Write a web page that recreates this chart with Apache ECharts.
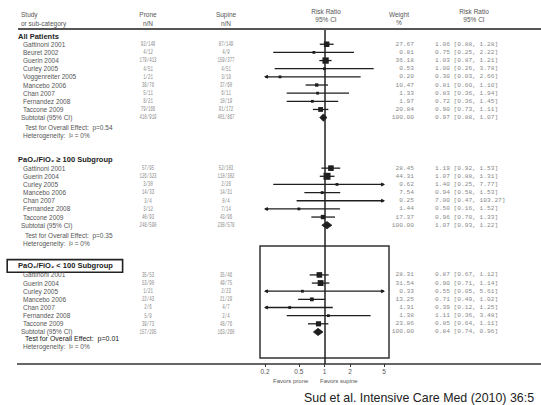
<!DOCTYPE html>
<html><head><meta charset="utf-8">
<script src="https://cdn.jsdelivr.net/npm/echarts@6/dist/echarts.min.js"></script>
<style>html,body{margin:0;padding:0;background:#fff}#c{width:541px;height:405px}</style>
</head><body><div id="c"></div>
<script>
// ---------- DATA ----------
const groupTitles = ['All Patients', 'PaO\u2082/FiO\u2082 \u2265 100 Subgroup', 'PaO\u2082/FiO\u2082 < 100 Subgroup'];

const names1  = ['Gattinoni 2001','Beuret 2002','Guerin 2004','Curley 2005','Voggenreiter 2005','Mancebo 2006','Chan 2007','Fernandez 2008','Taccone 2009'];
const prone1  = ['92/149','4/12','179/413','4/51','1/21','38/76','5/11','8/21','79/166'];
const supine1 = ['87/149','4/9','159/377','4/51','3/19','37/60','6/11','10/19','91/172'];
const weight1 = [27.67, 0.81, 36.18, 0.53, 0.20, 10.47, 1.33, 1.97, 20.84];
const rr1     = [1.06, 0.75, 1.03, 1.00, 0.30, 0.81, 0.83, 0.72, 0.90];
const lo1     = [0.88, 0.25, 0.87, 0.26, 0.03, 0.60, 0.36, 0.36, 0.73];
const hi1     = [1.28, 2.22, 1.21, 3.78, 2.66, 1.10, 1.94, 1.45, 1.11];

const names2  = ['Gattinoni 2001','Guerin 2004','Curley 2005','Mancebo 2006','Chan 2007','Fernandez 2008','Taccone 2009'];
const prone2  = ['57/95','126/323','3/30','14/33','3/4','3/12','40/93'];
const supine2 = ['52/103','110/302','2/28','14/31','0/4','7/14','43/96'];
const weight2 = [28.45, 44.31, 0.62, 7.54, 0.25, 1.44, 17.37];
const rr2     = [1.19, 1.07, 1.40, 0.94, 7.00, 0.50, 0.96];
const lo2     = [0.92, 0.88, 0.25, 0.58, 0.47, 0.16, 0.70];
const hi2     = [1.53, 1.31, 7.77, 1.53, 103.27, 1.52, 1.33];

const names3  = ['Gattinoni 2001','Guerin 2004','Curley 2005','Mancebo 2006','Chan 2007','Fernandez 2008','Taccone 2009'];
const prone3  = ['35/53','53/90','1/21','22/43','2/6','5/9','39/73'];
const supine3 = ['35/46','49/75','2/23','21/29','4/7','2/4','48/76'];
const weight3 = [28.31, 31.54, 0.33, 13.25, 1.31, 1.38, 23.86];
const rr3     = [0.87, 0.90, 0.55, 0.71, 0.39, 1.11, 0.85];
const lo3     = [0.67, 0.71, 0.05, 0.49, 0.12, 0.36, 0.64];
const hi3     = [1.12, 1.14, 5.61, 1.02, 1.25, 3.48, 1.11];

const subtotalProne  = ['410/919','248/590','157/295'];
const subtotalSupine = ['401/867','230/578','163/260'];
const subtotalRR = [0.97, 1.07, 0.84];
const subtotalLo = [0.88, 0.93, 0.74];
const subtotalHi = [1.07, 1.22, 0.96];
const overallP   = ['0.54', '0.35', '0.01'];
const heterogeneityI2 = ['0%', '0%', '0%'];

const xTicks = [0.2, 0.5, 1, 2, 5];
const X_MIN = 0.2, X_MAX = 5;

// ---------- LAYOUT ----------
const groups = [
  {names: names1, prone: prone1, supine: supine1, weight: weight1, rr: rr1, lo: lo1, hi: hi1},
  {names: names2, prone: prone2, supine: supine2, weight: weight2, rr: rr2, lo: lo2, hi: hi2},
  {names: names3, prone: prone3, supine: supine3, weight: weight3, rr: rr3, lo: lo3, hi: hi3}
];
const groupBase = [0, 15.1, 28.2];
const firstOffset = [1, 1.1, 1.1];
const testOffset = [1.25, 1.25, 0.8];

const rows = [];
const marks = [];
groups.forEach((g, gi) => {
  const base = groupBase[gi];
  rows.push({slot: base, kind: 'title', gi});
  let slot = base;
  g.names.forEach((n, i) => {
    slot = base + firstOffset[gi] + i;
    rows.push({slot, kind: 'study', name: n, prone: g.prone[i], supine: g.supine[i], w: g.weight[i], rr: g.rr[i], lo: g.lo[i], hi: g.hi[i]});
    marks.push([g.rr[i], slot, g.lo[i], g.hi[i], g.weight[i], 0]);
  });
  slot += 1;
  rows.push({slot, kind: 'subtotal', name: 'Subtotal (95% CI)', prone: subtotalProne[gi], supine: subtotalSupine[gi], w: 100, rr: subtotalRR[gi], lo: subtotalLo[gi], hi: subtotalHi[gi]});
  marks.push([subtotalRR[gi], slot, subtotalLo[gi], subtotalHi[gi], 100, 1]);
  const tslot = slot + testOffset[gi];
  rows.push({slot: tslot, kind: 'test', gi, text: 'Test for Overall Effect:  p=' + overallP[gi]});
  rows.push({slot: tslot + 1.0, kind: 'het', text: 'Heterogeneity:  I\u00b2 = ' + heterogeneityI2[gi]});
});

const SANS = '"Liberation Sans", Arial, sans-serif';
const MONO = '"Liberation Mono", "Courier New", monospace';

function renderMark(params, api) {
  const rr = api.value(0), slot = api.value(1), lo = api.value(2), hi = api.value(3), w = api.value(4), kind = api.value(5);
  const y = api.coord([1, slot])[1];
  const pMin = api.coord([X_MIN, slot])[0], pMax = api.coord([X_MAX, slot])[0];
  const xl = lo < X_MIN ? pMin : api.coord([lo, slot])[0];
  const xh = hi > X_MAX ? pMax : api.coord([hi, slot])[0];
  const children = [];
  const col = '#1e1e1e';
  if (kind === 1) {
    const xc = api.coord([rr, slot])[0];
    children.push({type: 'polygon', shape: {points: [[xl, y], [xc, y - 3.6], [xh, y], [xc, y + 3.6]]}, style: {fill: col, stroke: col, lineWidth: 0.8}});
    return {type: 'group', children};
  }
  children.push({type: 'line', shape: {x1: xl, y1: y, x2: xh, y2: y}, style: {stroke: col, lineWidth: 1.3}});
  if (lo < X_MIN) children.push({type: 'polygon', shape: {points: [[xl - 1, y], [xl + 2.5, y - 2], [xl + 3.5, y], [xl + 2.5, y + 2]]}, style: {fill: col}});
  if (hi > X_MAX) children.push({type: 'polygon', shape: {points: [[xh + 1, y], [xh - 2.5, y - 2], [xh - 3.5, y], [xh - 2.5, y + 2]]}, style: {fill: col}});
  if (rr >= X_MIN && rr <= X_MAX) {
    const xc = api.coord([rr, slot])[0];
    const s = Math.max(2.8, 1.05 * Math.sqrt(w));
    children.push({type: 'rect', shape: {x: xc - s / 2, y: y - s / 2, width: s, height: s}, style: {fill: col}});
  }
  return {type: 'group', children};
}

function txt(x, y, text, font, fill, align, extra) {
  return Object.assign({type: 'text', x, y, style: {text, font, fill, align: align || 'left', verticalAlign: 'middle'}}, extra || {});
}

function renderText(params, api) {
  const r = rows[api.value(2)];
  const y = api.coord([1, r.slot])[1];
  const ch = [];
  if (r.kind === 'title') {
    if (r.gi === 2) {
      ch.push({type: 'text', x: 8, y, style: {text: groupTitles[r.gi], font: 'bold 7.5px ' + SANS, fill: '#222', align: 'left', verticalAlign: 'middle',
        borderColor: '#222', borderWidth: 1.6, padding: [2, 9, 1, 10], backgroundColor: '#fff'}});
    } else {
      ch.push(txt(18, y, groupTitles[r.gi], 'bold 7.5px ' + SANS, '#222'));
    }
  } else if (r.kind === 'study' || r.kind === 'subtotal') {
    ch.push(txt(r.kind === 'study' ? 23 : 21, y, r.name, '6.5px ' + SANS, '#555'));
    ch.push({type: 'text', x: 148, y, scaleX: 0.58, style: {text: r.prone, font: '7px ' + MONO, fill: '#8a8a8a', align: 'center', verticalAlign: 'middle'}});
    ch.push({type: 'text', x: 226, y, scaleX: 0.58, style: {text: r.supine, font: '7px ' + MONO, fill: '#8a8a8a', align: 'center', verticalAlign: 'middle'}});
    ch.push(txt(414, y, r.w.toFixed(2), '6.2px ' + MONO, '#8a8a8a', 'right'));
    ch.push(txt(435, y, r.rr.toFixed(2) + ' [' + r.lo.toFixed(2) + ', ' + r.hi.toFixed(2) + ']', '6.2px ' + MONO, '#8a8a8a'));
  } else if (r.kind === 'test') {
    ch.push(txt(25, y, r.text, (r.gi === 2 ? '7px ' : '6.5px ') + SANS, r.gi === 2 ? '#222' : '#555'));
  } else {
    ch.push(txt(23, y, r.text, '6.5px ' + SANS, '#555'));
  }
  return {type: 'group', children: ch};
}

const chart = echarts.init(document.getElementById('c'), null, {renderer: 'svg'});
const hdr = (x, y, t) => ({type: 'text', x, y, style: {text: t, font: '6.5px ' + SANS, fill: '#555', align: 'center', verticalAlign: 'middle'}});
const hdrL = (x, y, t) => ({type: 'text', x, y, style: {text: t, font: '6.5px ' + SANS, fill: '#555', align: 'left', verticalAlign: 'middle'}});

chart.setOption({
  animation: false,
  backgroundColor: '#fff',
  grid: {left: 265, right: 157, top: 30, bottom: 41},
  xAxis: {
    type: 'log', min: X_MIN, max: X_MAX, logBase: 10, position: 'bottom',
    axisLine: {show: false, onZero: false},
    axisTick: {show: true, customValues: xTicks, length: 3, lineStyle: {color: '#333'}},
    axisLabel: {show: true, customValues: xTicks, fontSize: 6.5, color: '#555', margin: 4, fontFamily: SANS},
    splitLine: {show: false}, minorTick: {show: false}
  },
  yAxis: {type: 'value', inverse: true, min: -0.75, max: 40.23, show: false, splitLine: {show: false}},
  graphic: [
    hdrL(21, 14, 'Study'), hdrL(21, 23, 'or sub-category'),
    hdr(148, 14, 'Prone'), hdr(148, 23, 'n/N'),
    hdr(226, 14, 'Supine'), hdr(226, 23, 'n/N'),
    hdr(326, 11, 'Risk Ratio'), hdr(326, 19, '95% CI'),
    hdr(399, 14, 'Weight'), hdr(399, 22, '%'),
    hdr(474, 11, 'Risk Ratio'), hdr(474, 19, '95% CI'),
    {type: 'line', shape: {x1: 18, y1: 29, x2: 541, y2: 29}, style: {stroke: '#555', lineWidth: 2}},
    {type: 'line', shape: {x1: 17, y1: 364, x2: 541, y2: 364}, style: {stroke: '#333', lineWidth: 1.6}},
    {type: 'rect', shape: {x: 260, y: 246, width: 129, height: 112}, style: {fill: 'none', stroke: '#333', lineWidth: 1.5}},
    {type: 'text', x: 273, y: 381, style: {text: 'Favors prone', font: '6px ' + SANS, fill: '#555', align: 'left', verticalAlign: 'middle'}},
    {type: 'text', x: 320, y: 381, style: {text: 'Favors supine', font: '6px ' + SANS, fill: '#555', align: 'left', verticalAlign: 'middle'}},
    {type: 'text', x: 304, y: 398, style: {text: 'Sud et al. Intensive Care Med (2010) 36:5', font: '12.4px ' + SANS, fill: '#222', align: 'left', verticalAlign: 'middle'}}
  ],
  series: [
    {type: 'custom', name: 'forest', coordinateSystem: 'cartesian2d', clip: false, renderItem: renderMark, data: marks,
     encode: {x: 0, y: 1},
     markLine: {silent: true, symbol: 'none', label: {show: false}, lineStyle: {color: '#222', width: 1.5, type: 'solid'}, data: [{xAxis: 1}]}},
    {type: 'custom', name: 'table', coordinateSystem: 'cartesian2d', clip: false, renderItem: renderText,
     data: rows.map((r, i) => [1, r.slot, i]), encode: {x: 0, y: 1}}
  ]
});
</script>
</body></html>
